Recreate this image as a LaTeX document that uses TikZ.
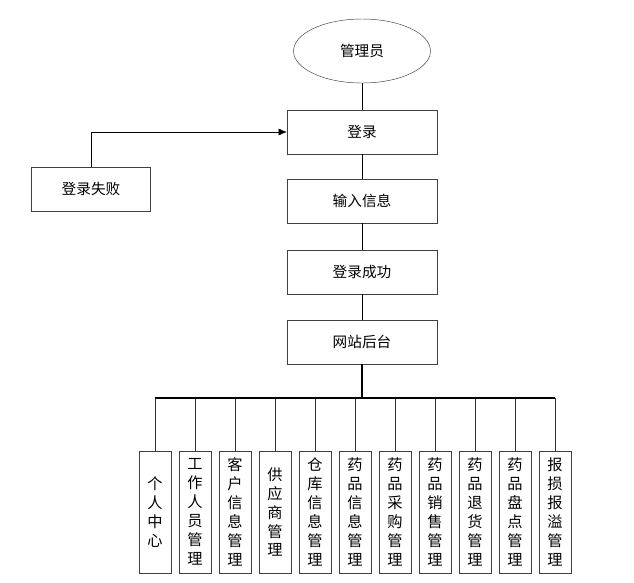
\documentclass[tikz,border=0pt]{standalone}
\usepackage{fontspec}
\newfontfamily\cjk{Noto Sans CJK SC}
\usetikzlibrary{arrows.meta, positioning, shapes.geometric}

\tikzset{
  mainbox/.style={draw=black!75, minimum width=4.5cm, minimum height=1.32cm,
    font=\cjk\fontsize{12.5}{15}\selectfont},
  subbox/.style={draw=black!75, minimum width=0.96cm, minimum height=3.66cm,
    align=center, inner sep=0pt, font=\cjk\fontsize{13}{16.2}\selectfont},
}

\begin{document}
\begin{tikzpicture}[x=0.03cm, y=-0.03cm]
\useasboundingbox (0,0) rectangle (634,583);

\node[draw=black!75, ellipse, minimum width=4.11cm, minimum height=1.92cm,
  font=\cjk\fontsize{12.5}{15}\selectfont] (admin) at (362,51) {管理员};
\node[mainbox] (login) at (362,132) {登录};
\node[mainbox] (input) at (362,201) {输入信息};
\node[mainbox] (ok) at (362,272) {登录成功};
\node[mainbox] (backend) at (362,342) {网站后台};
\node[mainbox, minimum width=3.57cm] (fail) at (91,189) {登录失败};

\draw (admin) -- (login);
\draw (login) -- (input);
\draw (input) -- (ok);
\draw (ok) -- (backend);
\draw[-{Latex[length=7pt,width=6pt]}] (fail.north) |- (login.west);

\coordinate (bus) at (362,398);
\draw[line width=1.3pt] (backend.south) -- (bus);

\foreach \lbl [count=\i] in {{个\\人\\中\\心}, {工\\作\\人\\员\\管\\理},
  {客\\户\\信\\息\\管\\理}, {供\\应\\商\\管\\理}, {仓\\库\\信\\息\\管\\理},
  {药\\品\\信\\息\\管\\理}, {药\\品\\采\\购\\管\\理}, {药\\品\\销\\售\\管\\理},
  {药\\品\\退\\货\\管\\理}, {药\\品\\盘\\点\\管\\理}, {报\\损\\报\\溢\\管\\理}} {
  \pgfmathsetmacro{\mx}{115+40*\i}
  \node[subbox] (m\i) at (\mx,512) {\lbl};
  \draw[black!80] (m\i.north) |- (bus);
}
\draw[line width=1pt] (m1.north |- bus) -- (m11.north |- bus);

\end{tikzpicture}
\end{document}
